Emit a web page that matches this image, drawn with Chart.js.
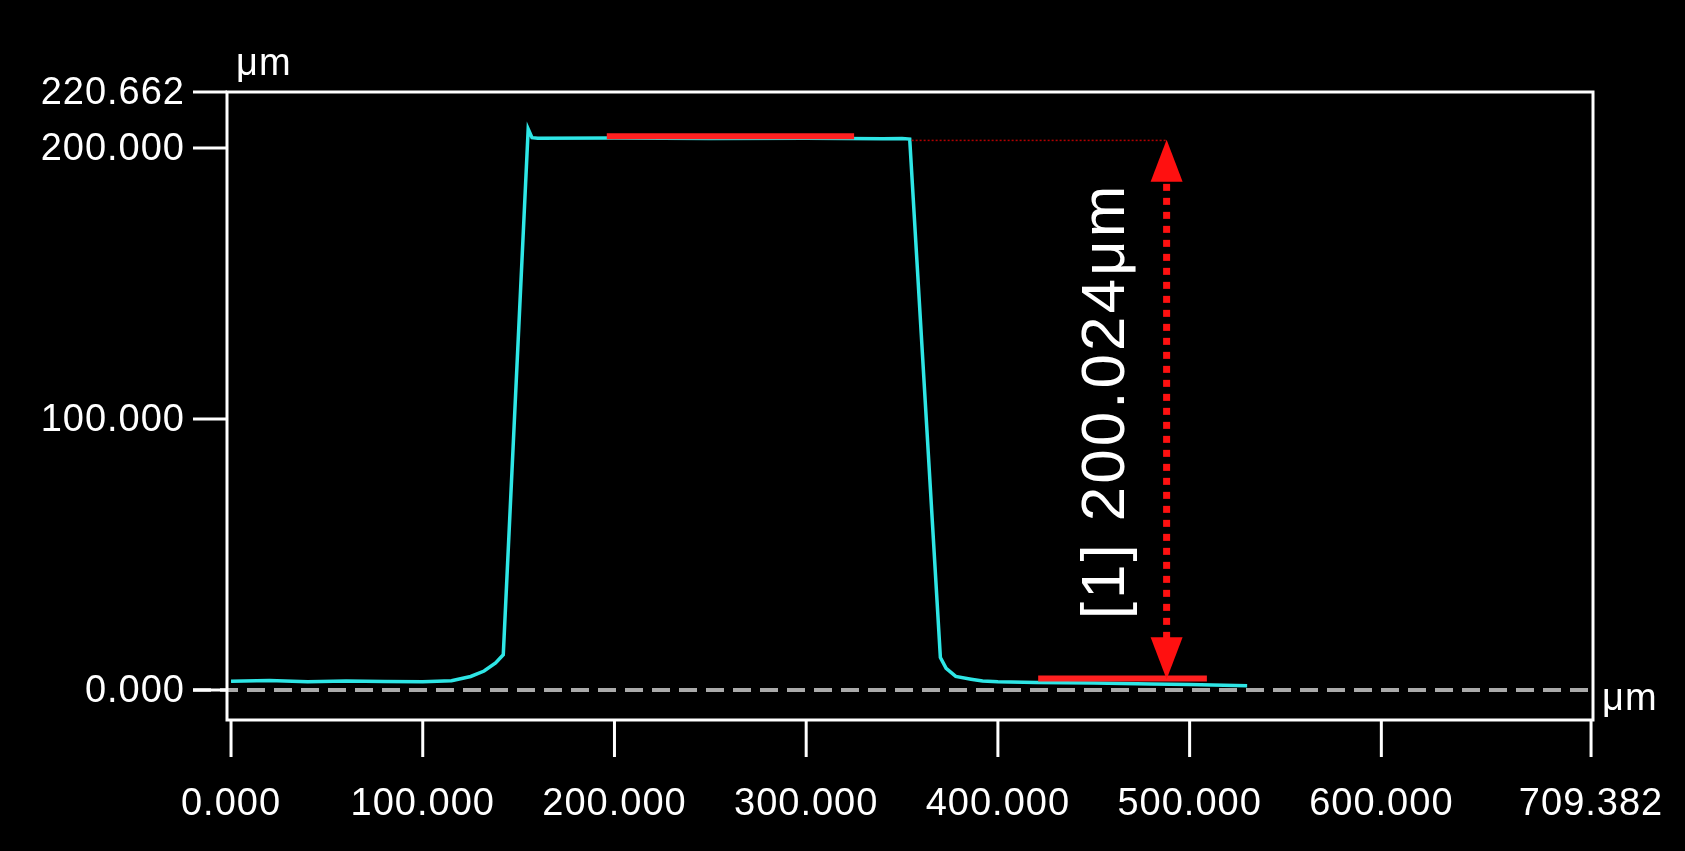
<!DOCTYPE html>
<html><head><meta charset="utf-8">
<script src="https://cdn.jsdelivr.net/npm/chart.js@4"></script>
<style>html,body{margin:0;background:#000;overflow:hidden}canvas{display:block}</style>
</head><body><canvas id="c" width="1685" height="851"></canvas>
<script>
const profileX = [0,20,40,60,80,100,115,125,132,138,142,155,157,160,200,250,300,340,350,354,370,373,378,386,392,400,420,450,480,500,530];
const profileY = [3.2,3.5,3.0,3.3,3.1,3.0,3.4,5,7,10,13,207,203.8,203.6,203.7,203.5,203.6,203.4,203.5,203.3,12,8,5,4,3.3,3,2.8,2.6,2.2,2.0,1.6];
const topFitX = [196,325], topFitY = [204.3,204.3];
const baseFitX = [421,509], baseFitY = [4.2,4.2];
const guideX = [355,488], guideY = [202.8,202.8];
const arrowX = 488, arrowFrom = 203, arrowTo = 4;
const measureLabel = "[1] 200.024μm";
const xTicks = [0,100,200,300,400,500,600,709.382];
const yTicks = [0,100,200,220.662];
const unit = "μm";
const pts=(xs,ys)=>xs.map((x,i)=>({x,y:ys[i]}));
const FONT='38px "Liberation Sans Narrow", "Liberation Sans", Arial, sans-serif';
const deco={id:'deco',
 beforeDatasetsDraw(ch){const c=ch.ctx,a=ch.chartArea,x=ch.scales.x,y=ch.scales.y;
  c.save();c.strokeStyle='#aaa';c.lineWidth=4;c.setLineDash([18,9]);
  c.beginPath();c.moveTo(193,y.getPixelForValue(0));c.lineTo(a.right,y.getPixelForValue(0));c.stroke();c.restore();},
 afterDatasetsDraw(ch){const c=ch.ctx,a=ch.chartArea,x=ch.scales.x,y=ch.scales.y;
  c.save();c.strokeStyle='#fff';c.lineWidth=3;c.strokeRect(a.left,a.top,a.right-a.left,a.bottom-a.top);
  c.fillStyle='#fff';c.font=FONT;c.letterSpacing='1px';
  c.textAlign='right';c.textBaseline='middle';
  yTicks.forEach(v=>{const p=y.getPixelForValue(v);c.beginPath();c.moveTo(193,p);c.lineTo(a.left,p);c.stroke();c.fillText(v.toFixed(3),185,p+2);});
  c.textAlign='center';c.textBaseline='alphabetic';
  xTicks.forEach(v=>{const p=x.getPixelForValue(v);c.beginPath();c.moveTo(p,a.bottom);c.lineTo(p,757);c.stroke();c.fillText(v.toFixed(3),p,815);});
  c.textAlign='left';c.fillText(unit,236,75);c.fillText(unit,1602,710);
  const ax=x.getPixelForValue(arrowX),y1=y.getPixelForValue(arrowFrom),y2=y.getPixelForValue(arrowTo);
  c.strokeStyle='#ff1010';c.fillStyle='#ff1010';c.lineWidth=7;c.setLineDash([7,7]);
  c.beginPath();c.moveTo(ax,y1+30);c.lineTo(ax,y2-30);c.stroke();c.setLineDash([]);
  c.beginPath();c.moveTo(ax,y1);c.lineTo(ax-16,y1+42);c.lineTo(ax+16,y1+42);c.fill();
  c.beginPath();c.moveTo(ax,y2);c.lineTo(ax-16,y2-42);c.lineTo(ax+16,y2-42);c.fill();
  c.translate(1107,401);c.rotate(-Math.PI/2);c.fillStyle='#fff';
  c.font='62px "Liberation Sans Narrow", "Liberation Sans", Arial, sans-serif';c.letterSpacing='3px';
  c.textAlign='center';c.textBaseline='middle';c.fillText(measureLabel,0,0);
  c.restore();}};
new Chart(document.getElementById('c'),{type:'scatter',
 data:{datasets:[
  {data:pts(guideX,guideY),showLine:true,borderColor:'#b00000',borderWidth:1.5,borderDash:[2,2],pointRadius:0},
  {data:pts(topFitX,topFitY),showLine:true,borderColor:'#ff2020',borderWidth:6,pointRadius:0},
  {data:pts(baseFitX,baseFitY),showLine:true,borderColor:'#ff2020',borderWidth:6,pointRadius:0},
  {data:pts(profileX,profileY),showLine:true,borderColor:'#2ee6e6',borderWidth:3.5,pointRadius:0,tension:0}]},
 options:{responsive:false,animation:false,events:[],
  layout:{padding:{left:227,right:92,top:92,bottom:131}},
  plugins:{legend:{display:false},tooltip:{enabled:false}},
  scales:{x:{type:'linear',display:false,min:-2.1,max:710.4},
          y:{type:'linear',display:false,min:-11.07,max:220.662}}},
 plugins:[deco]});
</script></body></html>
